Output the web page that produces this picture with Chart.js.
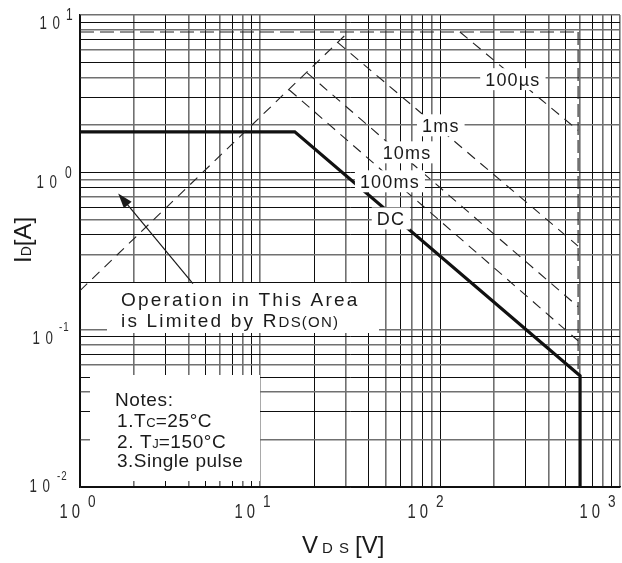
<!DOCTYPE html>
<html>
<head>
<meta charset="utf-8">
<script src="https://cdn.jsdelivr.net/npm/chart.js@4.4.0/dist/chart.umd.min.js"></script>
<style>
  html, body { margin: 0; padding: 0; background: #fff; }
  #wrap { width: 622px; height: 563px; }
</style>
</head>
<body>
<div id="wrap"><canvas id="soa" width="622" height="563"></canvas></div>
<script>
// grid / tick values
const xGrid = [1, 2, 3, 4, 5, 6, 7, 8, 9, 10, 20, 30, 40, 50, 60, 70, 80, 90,
  100, 200, 300, 400, 500, 600, 700, 800, 900, 1000];
const yGrid = [0.01, 0.02, 0.03, 0.04, 0.05, 0.06, 0.07, 0.08, 0.09,
  0.1, 0.2, 0.3, 0.4, 0.5, 0.6, 0.7, 0.8, 0.9, 1, 2, 3, 4, 5, 6, 7, 8, 9, 10];
const xDecades = [1, 10, 100, 1000];
const xExps = ['0', '1', '2', '3'];
const yDecades = [10, 1, 0.1, 0.01];
const yExps = ['1', '0', '-1', '-2'];

// curves, VDS [V] / ID [A]
const rdsV = [1, 31];
const rdsI = [0.177, 7.8];
const idmV = [1, 585];
const idmI = [7.8, 7.8];
const vmaxV = [585, 585];
const vmaxI = [7.8, 0.055];
const us100V = [129, 585];
const us100I = [7.8, 1.85];
const ms1V = [27, 585];
const ms1I = [6.7, 0.34];
const ms10V = [18.2, 585];
const ms10I = [4.3, 0.14];
const ms100V = [14.5, 585];
const ms100I = [3.35, 0.085];
const dcV = [1, 15.6, 600, 600];
const dcI = [1.81, 1.81, 0.051, 0.01];

const curveNames = ['100µs', '1ms', '10ms', '100ms', 'DC'];

const FONT = '"Liberation Sans", Arial, sans-serif';
const INK = '#1a1a1a';

const pts = (v, i) => v.map((x, k) => ({ x, y: i[k] }));

function dashed(v, i, dash) {
  return { data: pts(v, i), borderColor: '#222', borderWidth: 1.1, borderDash: dash || [10, 7] };
}

// label anchors in data units (V, A)
const tagAt = [[254, 3.91], [101, 1.99], [65.6, 1.34], [52.7, 0.877], [53.4, 0.509]];

function runs(ctx, x, y, parts) {
  parts.forEach(([txt, size, sp]) => {
    ctx.font = size + 'px ' + FONT;
    ctx.letterSpacing = (sp || 0) + 'px';
    ctx.fillText(txt, x, y);
    x += ctx.measureText(txt).width;
  });
  ctx.letterSpacing = '0px';
  return x;
}

// condensed digits for the axis numbers
function narrow(ctx, str, x, y, size, sx, gap, alignRight) {
  ctx.font = size + 'px ' + FONT;
  ctx.letterSpacing = '0px';
  const ws = [...str].map(c => ctx.measureText(c).width * sx);
  const total = ws.reduce((a, b) => a + b, 0) + gap * (ws.length - 1);
  let cx = alignRight ? x - total : x;
  [...str].forEach((c, k) => {
    ctx.save();
    ctx.translate(cx, y);
    ctx.scale(sx, 1);
    ctx.fillText(c, 0, 0);
    ctx.restore();
    cx += ws[k] + gap;
  });
}

const notesPlugin = {
  id: 'notes',
  afterDatasetsDraw(chart) {
    const { ctx, scales: { x, y } } = chart;
    const X = v => x.getPixelForValue(v);
    const Y = v => y.getPixelForValue(v);
    ctx.save();
    ctx.textAlign = 'left';
    ctx.textBaseline = 'alphabetic';

    // curve labels on white
    curveNames.forEach((name, k) => {
      const cx = X(tagAt[k][0]);
      const cy = Y(tagAt[k][1]);
      ctx.font = '18px ' + FONT;
      ctx.letterSpacing = '1.2px';
      const w = ctx.measureText(name).width;
      ctx.fillStyle = '#fff';
      ctx.fillRect(cx - w / 2 - 5, cy - 11, w + 10, 22);
      ctx.fillStyle = INK;
      ctx.fillText(name, cx - w / 2, cy + 7);
    });

    // "Operation in This Area" box
    ctx.fillStyle = '#fff';
    ctx.fillRect(107, 283, 272, 50);
    ctx.fillStyle = INK;
    runs(ctx, 121, 306, [['Operation in This Area', 19, 2.2]]);
    runs(ctx, 121, 327, [['is Limited by R', 19, 2.2], ['DS(ON)', 15, 1.2]]);

    // arrow pointing into the RDS(on) region
    const tx = X(4.24), ty = Y(0.196), hx = X(1.63), hy = Y(0.734);
    const ang = Math.atan2(hy - ty, hx - tx);
    ctx.strokeStyle = INK;
    ctx.lineWidth = 1.2;
    ctx.beginPath();
    ctx.moveTo(tx, ty);
    ctx.lineTo(hx - 10 * Math.cos(ang), hy - 10 * Math.sin(ang));
    ctx.stroke();
    ctx.beginPath();
    ctx.moveTo(hx, hy);
    ctx.lineTo(hx - 15 * Math.cos(ang) + 5 * Math.sin(ang), hy - 15 * Math.sin(ang) - 5 * Math.cos(ang));
    ctx.lineTo(hx - 15 * Math.cos(ang) - 5 * Math.sin(ang), hy - 15 * Math.sin(ang) + 5 * Math.cos(ang));
    ctx.closePath();
    ctx.fillStyle = INK;
    ctx.fill();

    // notes box
    ctx.fillStyle = '#fff';
    ctx.fillRect(90, 375, 170, 106);
    ctx.fillStyle = INK;
    runs(ctx, 115, 406, [['Notes:', 19, 0.6]]);
    runs(ctx, 117, 427, [['1.T', 19, 0.6], ['C', 13, 0], ['=25°C', 19, 0.6]]);
    runs(ctx, 117, 448, [['2. T', 19, 0.6], ['J', 13, 0], ['=150°C', 19, 0.6]]);
    runs(ctx, 117, 467, [['3.Single pulse', 19, 0.5]]);
    ctx.restore();
  },
  afterDraw(chart) {
    const { ctx, scales: { x, y } } = chart;
    ctx.save();
    ctx.fillStyle = '#2a2a2a';
    ctx.textAlign = 'left';
    ctx.textBaseline = 'alphabetic';

    // y decade labels
    const yRight = [60, 57, 53, 50], yBase = [14, 16, 14, 5];
    const ySup = [66, 65, 59, 57], ySupBase = [5, 6, 1, -7];
    yDecades.forEach((v, k) => {
      const gy = y.getPixelForValue(v);
      narrow(ctx, '10', yRight[k], gy + yBase[k], 18, 0.74, 5.6, true);
      const small = yExps[k].length > 1;
      narrow(ctx, yExps[k], ySup[k], gy + ySupBase[k], small ? 13 : 16, 0.75, 1, false);
    });

    // x decade labels
    const xShift = [0, -5, -12, -20], xSup = [8, 3, -4, -12];
    xDecades.forEach((v, k) => {
      const gx = x.getPixelForValue(v);
      narrow(ctx, '10', gx + xShift[k], 518, 20, 0.74, 4, true);
      narrow(ctx, xExps[k], gx + xSup[k], 507, 17, 0.8, 1, false);
    });

    // axis titles
    ctx.fillStyle = INK;
    ctx.font = '24px ' + FONT;
    ctx.fillText('V', 302, 553);
    ctx.font = '15px ' + FONT;
    ctx.fillText('D', 322, 553);
    ctx.fillText('S', 339, 553);
    ctx.font = '24px ' + FONT;
    ctx.fillText('[V]', 355, 553);

    ctx.translate(31, 263);
    ctx.rotate(-Math.PI / 2);
    runs(ctx, 0, 0, [['I', 24, 0], ['D', 14, 0], ['[A]', 24, 0]]);
    ctx.restore();
  }
};

const gridStyle = {
  color: c => (c.index % 2 ? '#707070' : '#0e0e0e'),
  lineWidth: c => (c.index % 2 ? 1.6 : 1),
  drawTicks: false
};

new Chart(document.getElementById('soa').getContext('2d'), {
  type: 'scatter',
  data: {
    datasets: [
      dashed(rdsV, rdsI),
      dashed(idmV, idmI, [14, 6]),
      dashed(vmaxV, vmaxI, [13, 5]),
      dashed(us100V, us100I),
      dashed(ms1V, ms1I),
      dashed(ms10V, ms10I),
      dashed(ms100V, ms100I),
      { data: pts(dcV, dcI), borderColor: '#111', borderWidth: 3.2, borderJoinStyle: 'miter' }
    ]
  },
  options: {
    responsive: false,
    animation: false,
    showLine: true,
    layout: { padding: { left: 80, right: 2, top: 15, bottom: 76 } },
    elements: { point: { radius: 0, hoverRadius: 0 }, line: { tension: 0 } },
    plugins: { legend: { display: false }, tooltip: { enabled: false } },
    scales: {
      x: {
        type: 'logarithmic', min: 1, max: 1000,
        afterBuildTicks: axis => { axis.ticks = xGrid.map(value => ({ value })); },
        ticks: { display: false },
        grid: gridStyle,
        border: { color: '#111', width: 1.5 }
      },
      y: {
        type: 'logarithmic', min: 0.01, max: 10,
        afterBuildTicks: axis => { axis.ticks = yGrid.map(value => ({ value })); },
        ticks: { display: false },
        grid: gridStyle,
        border: { color: '#111', width: 1.5 }
      }
    }
  },
  plugins: [notesPlugin]
});
</script>
</body>
</html>
